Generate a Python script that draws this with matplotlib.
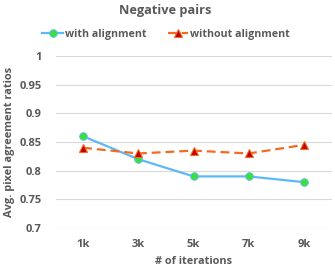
import matplotlib
matplotlib.use("Agg")
import matplotlib.pyplot as plt

# data
iterations = ["1k", "3k", "5k", "7k", "9k"]
with_alignment = [0.86, 0.82, 0.79, 0.79, 0.78]
without_alignment = [0.84, 0.83, 0.835, 0.83, 0.845]
y_ticks = [0.7, 0.75, 0.8, 0.85, 0.9, 0.95, 1.0]
y_tick_labels = ["0.7", "0.75", "0.8", "0.85", "0.9", "0.95", "1"]

grey = "#595959"
plt.rcParams["font.family"] = ["Open Sans", "DejaVu Sans"]
plt.rcParams["font.weight"] = "bold"

fig = plt.figure(figsize=(3.35, 2.73), dpi=100)
ax = fig.add_axes([0.1657, 0.1648, 0.824, 0.630])

x = list(range(len(iterations)))
ax.plot(x, with_alignment, color="#5DB8F6", lw=1.6, marker="o", ms=5.5,
        mfc="#3CE03C", mec="#5DB8F6", mew=0.6, label="with alignment", zorder=3)
ax.plot(x, without_alignment, color="#F26B21", lw=1.6, ls=(0, (4, 2.2)), marker="^", ms=5.5,
        mfc="#C00000", mec="#F26B21", mew=0.8, label="without alignment", zorder=3)

ax.set_xlim(-0.5, len(iterations) - 0.5)
ax.set_ylim(0.7, 1.0)
ax.set_xticks(x)
ax.set_xticklabels(iterations, fontweight="bold")
ax.set_yticks(y_ticks)
ax.set_yticklabels(y_tick_labels, fontweight="bold")
ax.tick_params(length=0, labelsize=8, labelcolor=grey, pad=10)
ax.tick_params(axis="x", pad=8)
ax.grid(axis="y", color="#D9D9D9", lw=0.8)
ax.set_axisbelow(True)
for s in ax.spines.values():
    s.set_visible(False)

ax.set_xlabel("# of iterations", fontsize=7.8, color=grey, labelpad=4, fontweight="bold")
ax.set_ylabel("Avg. pixel agreement ratios", fontsize=7.9, color=grey, labelpad=3,
              fontweight="bold")

fig.text(0.493, 0.962, "Negative pairs", ha="center", va="center",
         fontsize=9.2, color=grey, fontweight="bold")
fig.legend(loc="center", bbox_to_anchor=(0.496, 0.875), ncol=2, frameon=False,
           labelcolor=grey, handlelength=1.9, columnspacing=2.0,
           handletextpad=0.2, prop={"weight": "bold", "size": 7.7})

fig.savefig("out.png", dpi=100)
